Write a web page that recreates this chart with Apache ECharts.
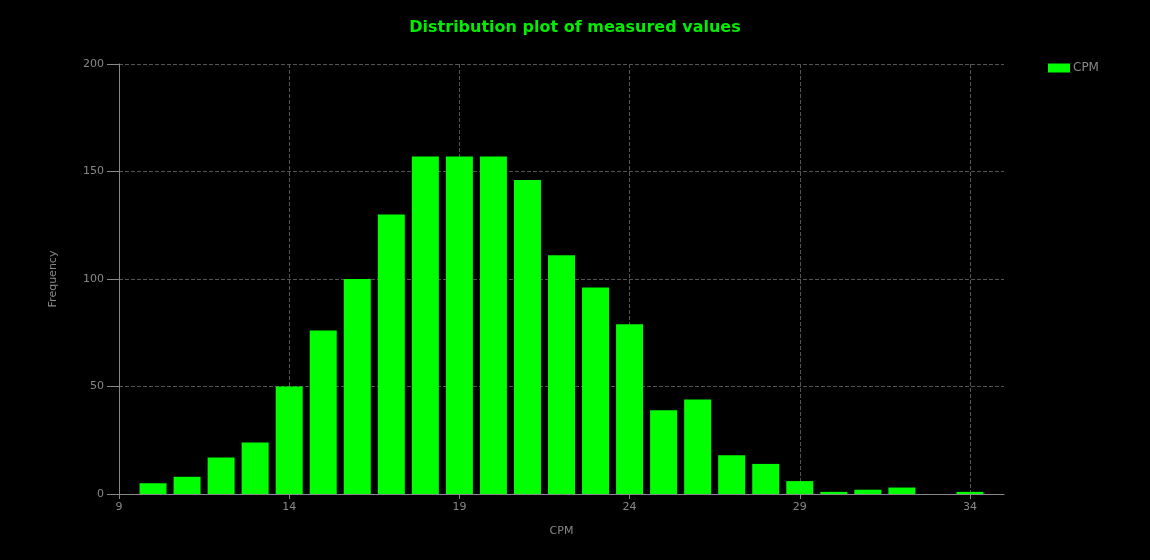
<!DOCTYPE html>
<html>
<head>
<meta charset="utf-8">
<script src="https://cdn.jsdelivr.net/npm/echarts@6/dist/echarts.min.js"></script>
<style>
	html, body { margin: 0; padding: 0; background: #000; }
	#chart { width: 1150px; height: 560px; }
</style>
</head>
<body>
<div id="chart"></div>
<script>
// measured CPM bins and their counts
var cpmBins = [10, 11, 12, 13, 14, 15, 16, 17, 18, 19, 20, 21, 22, 23, 24, 25, 26, 27, 28, 29, 30, 31, 32, 33, 34];
var frequency = [5, 8, 17, 24, 50, 76, 100, 130, 157, 157, 157, 146, 111, 96, 79, 39, 44, 18, 14, 6, 1, 2, 3, 0, 1];

var barData = [];
for (var i = 0; i < cpmBins.length; i++) {
	barData.push([cpmBins[i], frequency[i]]);
}

var myChart = echarts.init(document.getElementById('chart'));
myChart.setOption({
	backgroundColor: '#000',
	animation: false,
	title: {
		text: 'Distribution plot of measured values',
		left: 'center',
		top: 15,
		textStyle: { color: '#00ee00', fontSize: 16, fontWeight: 'bold', fontFamily: 'DejaVu Sans' }
	},
	legend: {
		data: ['CPM'],
		left: 1043,
		top: 57,
		icon: 'rect',
		itemWidth: 22,
		itemHeight: 9,
		itemGap: 5,
		textStyle: { color: '#888', fontSize: 12, fontFamily: 'DejaVu Sans', padding: [0, 0, 0, -2] }
	},
	grid: { left: 119, right: 146, top: 64, bottom: 66 },
	xAxis: {
		type: 'value',
		min: 9,
		max: 35,
		interval: 5,
		name: 'CPM',
		nameLocation: 'middle',
		nameGap: 32,
		nameTextStyle: { color: '#888', fontSize: 11, fontFamily: 'DejaVu Sans' },
		axisLine: { lineStyle: { color: '#888' } },
		axisTick: { show: true, length: 5, lineStyle: { color: '#888' } },
		axisLabel: { color: '#888', fontSize: 11, fontFamily: 'DejaVu Sans', showMaxLabel: false },
		splitLine: { show: true, showMinLine: false, showMaxLine: false, lineStyle: { color: '#555', type: 'dashed' } }
	},
	yAxis: {
		type: 'value',
		min: 0,
		max: 200,
		interval: 50,
		name: 'Frequency',
		nameLocation: 'middle',
		nameGap: 60,
		nameTextStyle: { color: '#888', fontSize: 11, fontFamily: 'DejaVu Sans' },
		axisLine: { show: true, lineStyle: { color: '#888' } },
		axisTick: { show: true, length: 12, lineStyle: { color: '#888' } },
		axisLabel: { color: '#888', fontSize: 11, fontFamily: 'DejaVu Sans', margin: 15 },
		splitLine: { show: true, showMinLine: false, lineStyle: { color: '#555', type: 'dashed' } }
	},
	series: [{
		name: 'CPM',
		type: 'bar',
		barWidth: 27,
		itemStyle: { color: '#00ff00' },
		data: barData
	}]
});
</script>
</body>
</html>
